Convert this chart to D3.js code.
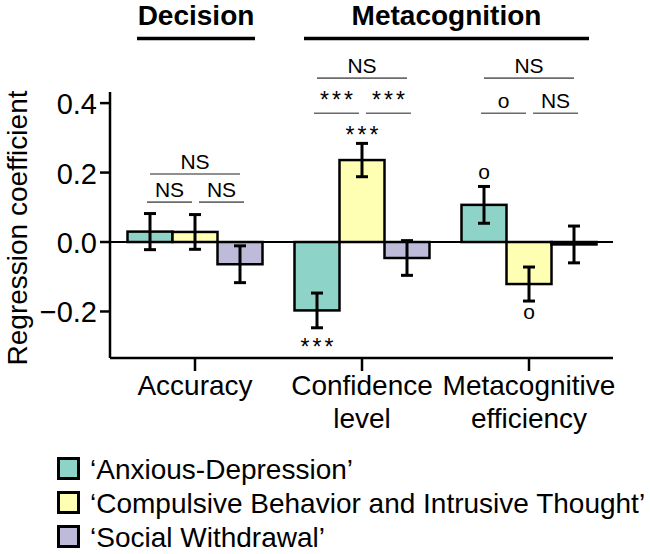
<!DOCTYPE html>
<html>
<head>
<meta charset="utf-8">
<script src="https://cdn.jsdelivr.net/npm/d3@7"></script>
<style>
  body { margin: 0; background: #fff; }
  svg { display: block; }
</style>
</head>
<body>
<script>
// categories and series
var categories = ["Accuracy", "Confidence level", "Metacognitive efficiency"];
var categoryLines = [["Accuracy"], ["Confidence", "level"], ["Metacognitive", "efficiency"]];
var seriesNames = ["\u2018Anxious-Depression\u2019",
                   "\u2018Compulsive Behavior and Intrusive Thought\u2019",
                   "\u2018Social Withdrawal\u2019"];
var seriesColors = ["#8dd3c7", "#ffffb3", "#bebada"];

// coefficients per series (one value per category)
var anxious    = [0.030, -0.197, 0.107];
var compulsive = [0.029, 0.236, -0.121];
var social     = [-0.064, -0.046, -0.007];
// error bars
var anxiousErr    = [0.052, 0.050, 0.053];
var compulsiveErr = [0.050, 0.048, 0.049];
var socialErr     = [0.053, 0.050, 0.053];

// significance above/below each bar [category][series]
var barMarks = [["", "", ""], ["***", "***", ""], ["o", "o", ""]];

// pairwise comparisons: category index, from series, to series, label, level (regression units)
var brackets = [
  [0, 0, 2, "NS", 0.196], [0, 0, 1, "NS", 0.115], [0, 1, 2, "NS", 0.115],
  [1, 0, 2, "NS", 0.472], [1, 0, 1, "***", 0.371], [1, 1, 2, "***", 0.371],
  [2, 0, 2, "NS", 0.472], [2, 0, 1, "o", 0.371], [2, 1, 2, "NS", 0.371]
];

// top headers: label, first category, last category
var headers = [["Decision", 0, 0], ["Metacognition", 1, 2]];

var yTicks = [-0.2, 0.0, 0.2, 0.4];

var width = 650, height = 554;
var font = "'Liberation Sans', Arial, Helvetica, sans-serif";

var values = [anxious, compulsive, social];
var errs = [anxiousErr, compulsiveErr, socialErr];
var data = [];
categories.forEach(function(c, ci) {
  seriesNames.forEach(function(s, si) {
    data.push({cat: c, ci: ci, si: si, value: values[si][ci], err: errs[si][ci], mark: barMarks[ci][si]});
  });
});

var svg = d3.select("body").append("svg")
  .attr("width", width)
  .attr("height", height)
  .attr("font-family", font);

var x0 = d3.scalePoint().domain(categories).range([195, 529]);
var x1 = d3.scaleBand().domain(d3.range(3)).range([-67.5, 67.5]);
var y = d3.scaleLinear().domain([-0.334, 0.432]).range([358, 92]);

function barX(ci, si) { return x0(categories[ci]) + x1(si); }
function barC(ci, si) { return barX(ci, si) + x1.bandwidth() / 2; }

// y axis
var yAxis = svg.append("g").attr("transform", "translate(110,0)");
yAxis.append("line").attr("x1", 0).attr("x2", 0).attr("y1", y.range()[1]).attr("y2", y.range()[0])
  .attr("stroke", "#000").attr("stroke-width", 2.5);
yAxis.selectAll(".tk").data(yTicks).join("line")
  .attr("x1", -10).attr("x2", 0).attr("y1", d => y(d)).attr("y2", d => y(d))
  .attr("stroke", "#000").attr("stroke-width", 2.5);
yAxis.selectAll("text").data(yTicks).join("text")
  .attr("x", -13).attr("y", d => y(d) + 11)
  .attr("text-anchor", "end")
  .attr("font-size", 29)
  .text(d => d3.format(".1f")(d));

svg.append("text")
  .attr("transform", "translate(27,228) rotate(-90)")
  .attr("text-anchor", "middle")
  .attr("font-size", 28)
  .text("Regression coefficient");

// x axis
var xAxis = svg.append("g");
xAxis.append("line").attr("x1", 110).attr("x2", 613).attr("y1", 358).attr("y2", 358)
  .attr("stroke", "#000").attr("stroke-width", 2.5);
xAxis.selectAll(".tk").data(categories).join("line")
  .attr("x1", d => x0(d)).attr("x2", d => x0(d)).attr("y1", 358).attr("y2", 371)
  .attr("stroke", "#000").attr("stroke-width", 2.5);
categories.forEach(function(c, ci) {
  categoryLines[ci].forEach(function(line, li) {
    xAxis.append("text")
      .attr("x", x0(c)).attr("y", 395 + li * 33)
      .attr("text-anchor", "middle")
      .attr("font-size", 28)
      .text(line);
  });
});

// bars
svg.append("g").selectAll("rect").data(data).join("rect")
  .attr("x", d => barX(d.ci, d.si))
  .attr("width", x1.bandwidth())
  .attr("y", d => y(Math.max(0, d.value)))
  .attr("height", d => Math.abs(y(d.value) - y(0)))
  .attr("fill", d => seriesColors[d.si])
  .attr("stroke", "#000")
  .attr("stroke-width", 2.5);

// zero line
svg.append("line").attr("x1", 110).attr("x2", 613).attr("y1", y(0)).attr("y2", y(0))
  .attr("stroke", "#000").attr("stroke-width", 2);

// error bars
var eb = svg.append("g").attr("stroke", "#000").attr("stroke-width", 3);
data.forEach(function(d) {
  var cx = barC(d.ci, d.si);
  eb.append("line").attr("x1", cx).attr("x2", cx).attr("y1", y(d.value + d.err)).attr("y2", y(d.value - d.err));
  eb.append("line").attr("x1", cx - 6).attr("x2", cx + 6).attr("y1", y(d.value + d.err)).attr("y2", y(d.value + d.err));
  eb.append("line").attr("x1", cx - 6).attr("x2", cx + 6).attr("y1", y(d.value - d.err)).attr("y2", y(d.value - d.err));
});

// significance next to bars
function markText(sel, label, x, yy) {
  var stars = label === "***";
  sel.append("text")
    .attr("x", x + (stars ? 1.5 : 0)).attr("y", yy)
    .attr("text-anchor", "middle")
    .attr("font-size", stars ? 23 : 21)
    .attr("letter-spacing", stars ? 3 : 0)
    .text(label);
}
var marks = svg.append("g");
data.filter(d => d.mark).forEach(function(d) {
  var cx = barC(d.ci, d.si);
  var stars = d.mark === "***";
  var yy;
  if (d.value >= 0) yy = y(d.value + d.err) - (stars ? 0 : 7);
  else yy = y(d.value - d.err) + (stars ? 27 : 18);
  markText(marks, d.mark, cx, yy);
});

// comparison brackets
var br = svg.append("g");
brackets.forEach(function(b) {
  var ci = b[0], a = b[1], c = b[2];
  var xa = barC(ci, a), xc = barC(ci, c);
  if (c - a === 1) {
    if (a === 0) { xa -= 3; xc -= 3; } else { xa += 4; xc += 4; }
  }
  var ly = y(b[4]);
  br.append("line").attr("x1", xa).attr("x2", xc).attr("y1", ly).attr("y2", ly)
    .attr("stroke", "#6b6b6b").attr("stroke-width", 1.6);
  markText(br, b[3], (xa + xc) / 2, ly - 5);
});

// headers
var hd = svg.append("g");
headers.forEach(function(h) {
  var a = x0(categories[h[1]]), b = x0(categories[h[2]]);
  hd.append("text")
    .attr("x", (a + b) / 2 + 1).attr("y", 25)
    .attr("text-anchor", "middle")
    .attr("font-size", 28)
    .attr("font-weight", "bold")
    .text(h[0]);
  hd.append("line").attr("x1", a - 58).attr("x2", b + 60).attr("y1", 38.5).attr("y2", 38.5)
    .attr("stroke", "#000").attr("stroke-width", 3.5);
});

// legend
var lg = svg.append("g").selectAll("g").data(seriesNames).join("g")
  .attr("transform", (d, i) => "translate(58.5," + (458.5 + i * 34) + ")");
lg.append("rect").attr("width", 20).attr("height", 20)
  .attr("fill", (d, i) => seriesColors[i]).attr("stroke", "#000").attr("stroke-width", 3);
lg.append("text")
  .attr("x", 31.5).attr("y", 20.5)
  .attr("font-size", 28)
  .text(d => d);
</script>
</body>
</html>
